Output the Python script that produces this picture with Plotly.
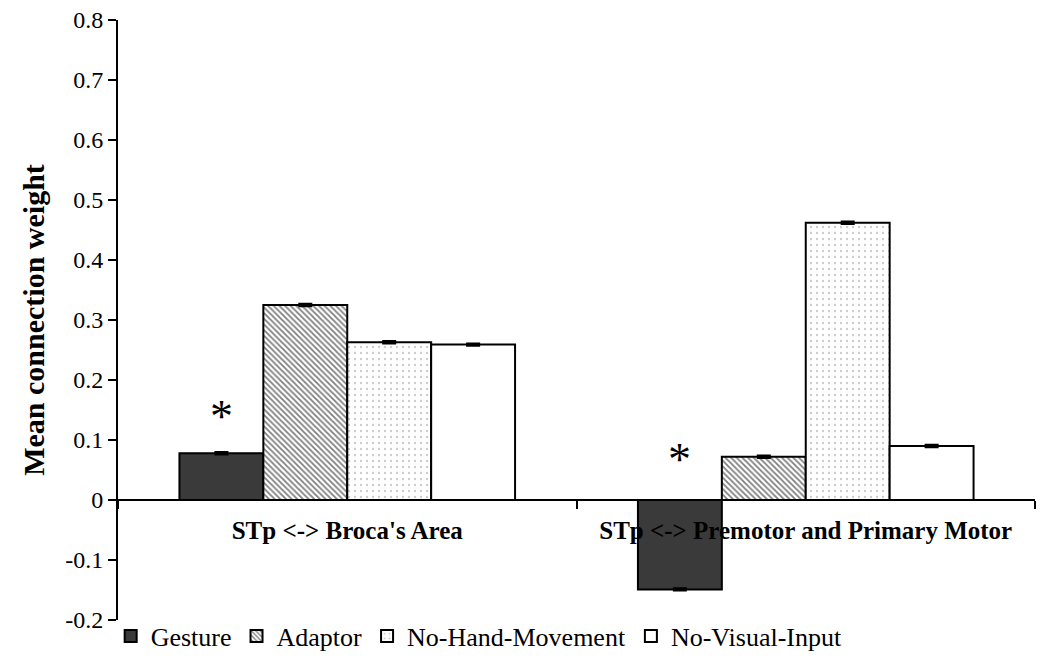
import plotly.graph_objects as go

categories = ["STp <-> Broca's Area", "STp <-> Premotor and Primary Motor"]
series_names = ["Gesture", "Adaptor", "No-Hand-Movement", "No-Visual-Input"]
gesture = [0.078, -0.149]
adaptor = [0.325, 0.072]
no_hand = [0.263, 0.462]
no_visual = [0.259, 0.090]
errors = [0.002, 0.002]
y_ticks = [-0.2, -0.1, 0, 0.1, 0.2, 0.3, 0.4, 0.5, 0.6, 0.7, 0.8]
y_tick_text = ["-0.2", "-0.1", "0", "0.1", "0.2", "0.3", "0.4", "0.5", "0.6", "0.7", "0.8"]
star_y = [0.14, 0.067]

FONT = "Liberation Serif, Times New Roman, serif"
values = [gesture, adaptor, no_hand, no_visual]
styles = [
    dict(color="#3a3a3a"),
    dict(color="white", pattern=dict(shape="\\", fgcolor="black", bgcolor="white", size=4, solidity=0.45)),
    dict(color="white", pattern=dict(shape=".", fgcolor="#9a9a9a", bgcolor="white", size=6, solidity=0.12)),
    dict(color="white"),
]

fig = go.Figure()
for name, vals, st in zip(series_names, values, styles):
    fig.add_trace(go.Bar(
        name=name, x=categories, y=vals,
        marker=dict(line=dict(color="black", width=2), **st),
        error_y=dict(type="data", array=errors, visible=True, color="black", thickness=2, width=7),
    ))

bargap = 0.268
bw = (1 - bargap) / 4
for i, sy in enumerate(star_y):
    fig.add_annotation(x=i - 1.5 * bw, y=sy, xref="x", yref="y", text="*", showarrow=False,
                       font=dict(family=FONT, size=46, color="black"), yanchor="middle")

fig.update_layout(
    width=1042, height=664,
    margin=dict(l=110, r=15, t=12, b=52),
    paper_bgcolor="white", plot_bgcolor="white",
    barmode="group", bargap=bargap, bargroupgap=0,
    font=dict(family=FONT, color="black"),
    showlegend=True,
    legend=dict(orientation="h", x=-0.008, y=-0.027, xanchor="left", yanchor="middle",
                font=dict(family=FONT, size=26, color="black"), itemwidth=30,
                tracegroupgap=0, bgcolor="rgba(0,0,0,0)"),
)
fig.update_yaxes(range=[-0.2, 0.8], tickvals=y_ticks, ticktext=y_tick_text, automargin=False,
                 ticklabeloverflow="allow",
                 showgrid=False, zeroline=False, showline=True, linecolor="black", linewidth=2,
                 ticks="outside", ticklen=8, tickwidth=2, tickcolor="black",
                 tickfont=dict(family=FONT, size=24, color="black"),
                 title=dict(text="<b>Mean connection weight</b>", font=dict(family=FONT, size=30, color="black"), standoff=12))
fig.update_xaxes(anchor="free", position=0.2, showgrid=False, zeroline=False, automargin=False,
                 showline=True, linecolor="black", linewidth=2,
                 ticks="outside", tickson="boundaries", ticklen=8, tickwidth=2, tickcolor="black",
                 tickfont=dict(family=FONT, size=25, color="black"),
                 tickprefix="<b>", ticksuffix="</b>", ticklabelstandoff=8)

fig.write_html("out.html")
